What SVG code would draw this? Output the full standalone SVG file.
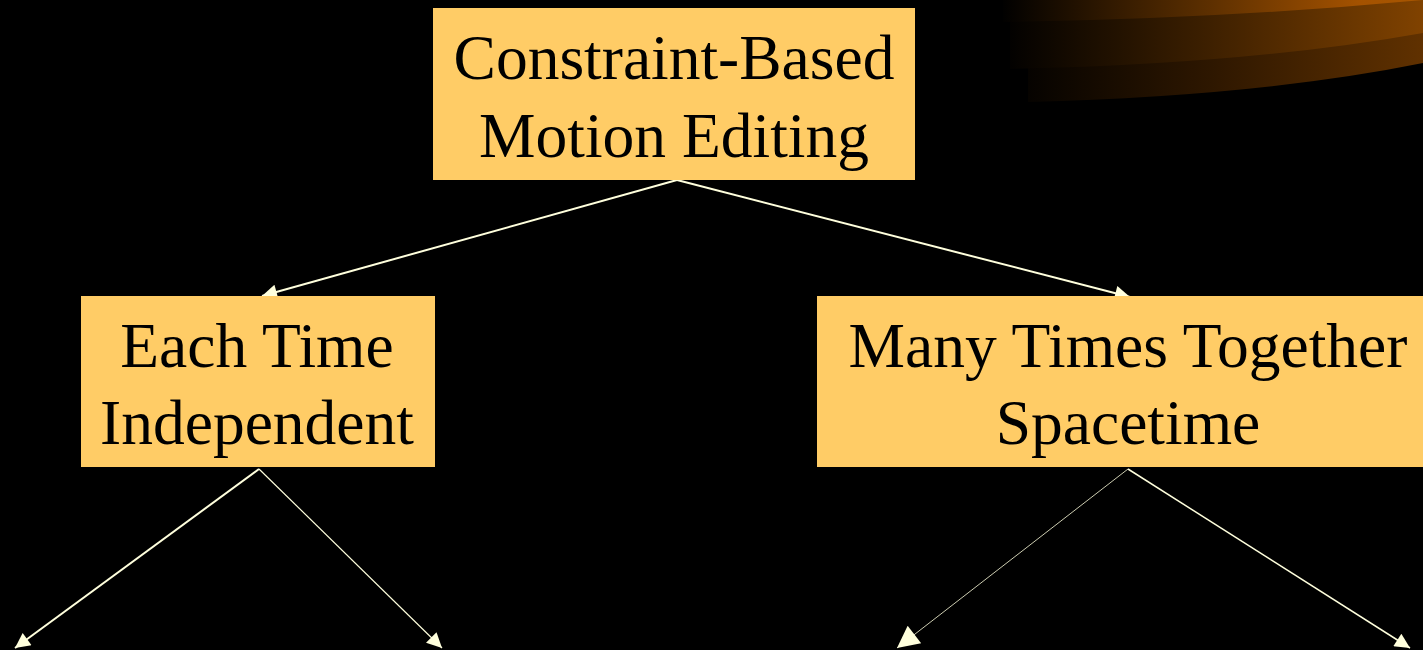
<svg xmlns="http://www.w3.org/2000/svg" width="1423" height="650" viewBox="0 0 1423 650">
<style>
.box{fill:#FFCC66}
.t{font-family:"Liberation Serif","Times New Roman",serif;font-size:63.5px;fill:#000;text-anchor:middle}
.c{stroke:#FFFFDD;fill:none}
</style>
<defs>
<linearGradient id="g1" x1="1000" y1="0" x2="1423" y2="0" gradientUnits="userSpaceOnUse"><stop offset="0" stop-color="#000"/><stop offset="0.5" stop-color="#5E3000"/><stop offset="0.85" stop-color="#A45200"/><stop offset="1" stop-color="#A85600"/></linearGradient>
<linearGradient id="g2" x1="1000" y1="0" x2="1423" y2="0" gradientUnits="userSpaceOnUse"><stop offset="0" stop-color="#000"/><stop offset="0.5" stop-color="#3E2000"/><stop offset="1" stop-color="#804200"/></linearGradient>
<linearGradient id="g3" x1="1000" y1="0" x2="1423" y2="0" gradientUnits="userSpaceOnUse"><stop offset="0" stop-color="#000"/><stop offset="0.5" stop-color="#2E1700"/><stop offset="1" stop-color="#603100"/></linearGradient>
<marker id="b" viewBox="0 0 10 10" refX="10" refY="5" markerWidth="17" markerHeight="15" markerUnits="userSpaceOnUse" orient="auto"><path d="M0,0L10,5L0,10z" fill="#FFFFDD"/></marker>
<marker id="c2" viewBox="0 0 10 10" refX="10" refY="5" markerWidth="24" markerHeight="22" markerUnits="userSpaceOnUse" orient="auto"><path d="M0,0L10,5L0,10z" fill="#FFFFDD"/></marker>
</defs>
<rect width="1423" height="650" fill="#000"/>
<g id="swoosh">
<path d="M1028,0 L1028,102 Q1260,96 1423,63 L1423,0 Z" fill="url(#g3)"/>
<path d="M1010,0 L1010,69 Q1250,64 1423,33 L1423,0 Z" fill="url(#g2)"/>
<path d="M1003,0 L1003,22 Q1220,19 1423,0 L1423,0 Z" fill="url(#g1)"/>
</g>
<g id="connectors">
<line class="c" x1="677" y1="180" x2="262" y2="296" stroke-width="2" marker-end="url(#b)"/>
<line class="c" x1="677" y1="180" x2="1130" y2="297" stroke-width="2" marker-end="url(#b)"/>
<line class="c" x1="259" y1="469" x2="15" y2="648" stroke-width="2" marker-end="url(#b)"/>
<line class="c" x1="259" y1="469" x2="442" y2="648" stroke-width="1.2" marker-end="url(#b)"/>
<line class="c" x1="1128" y1="469" x2="897" y2="648" stroke-width="0.8" marker-end="url(#c2)"/>
<line class="c" x1="1128" y1="469" x2="1410" y2="648" stroke-width="1.5" marker-end="url(#b)"/>
</g>
<g id="root">
<rect class="box" x="433" y="8" width="482" height="172"/>
<text class="t" x="674" y="79">Constraint-Based</text>
<text class="t" x="674" y="157">Motion Editing</text>
</g>
<g id="left">
<rect class="box" x="81" y="296" width="354" height="171"/>
<text class="t" x="257" y="367">Each Time</text>
<text class="t" x="257" y="444">Independent</text>
</g>
<g id="right">
<rect class="box" x="817" y="296" width="606" height="171"/>
<text class="t" x="1128" y="367">Many Times Together</text>
<text class="t" x="1128" y="444">Spacetime</text>
</g>
</svg>
